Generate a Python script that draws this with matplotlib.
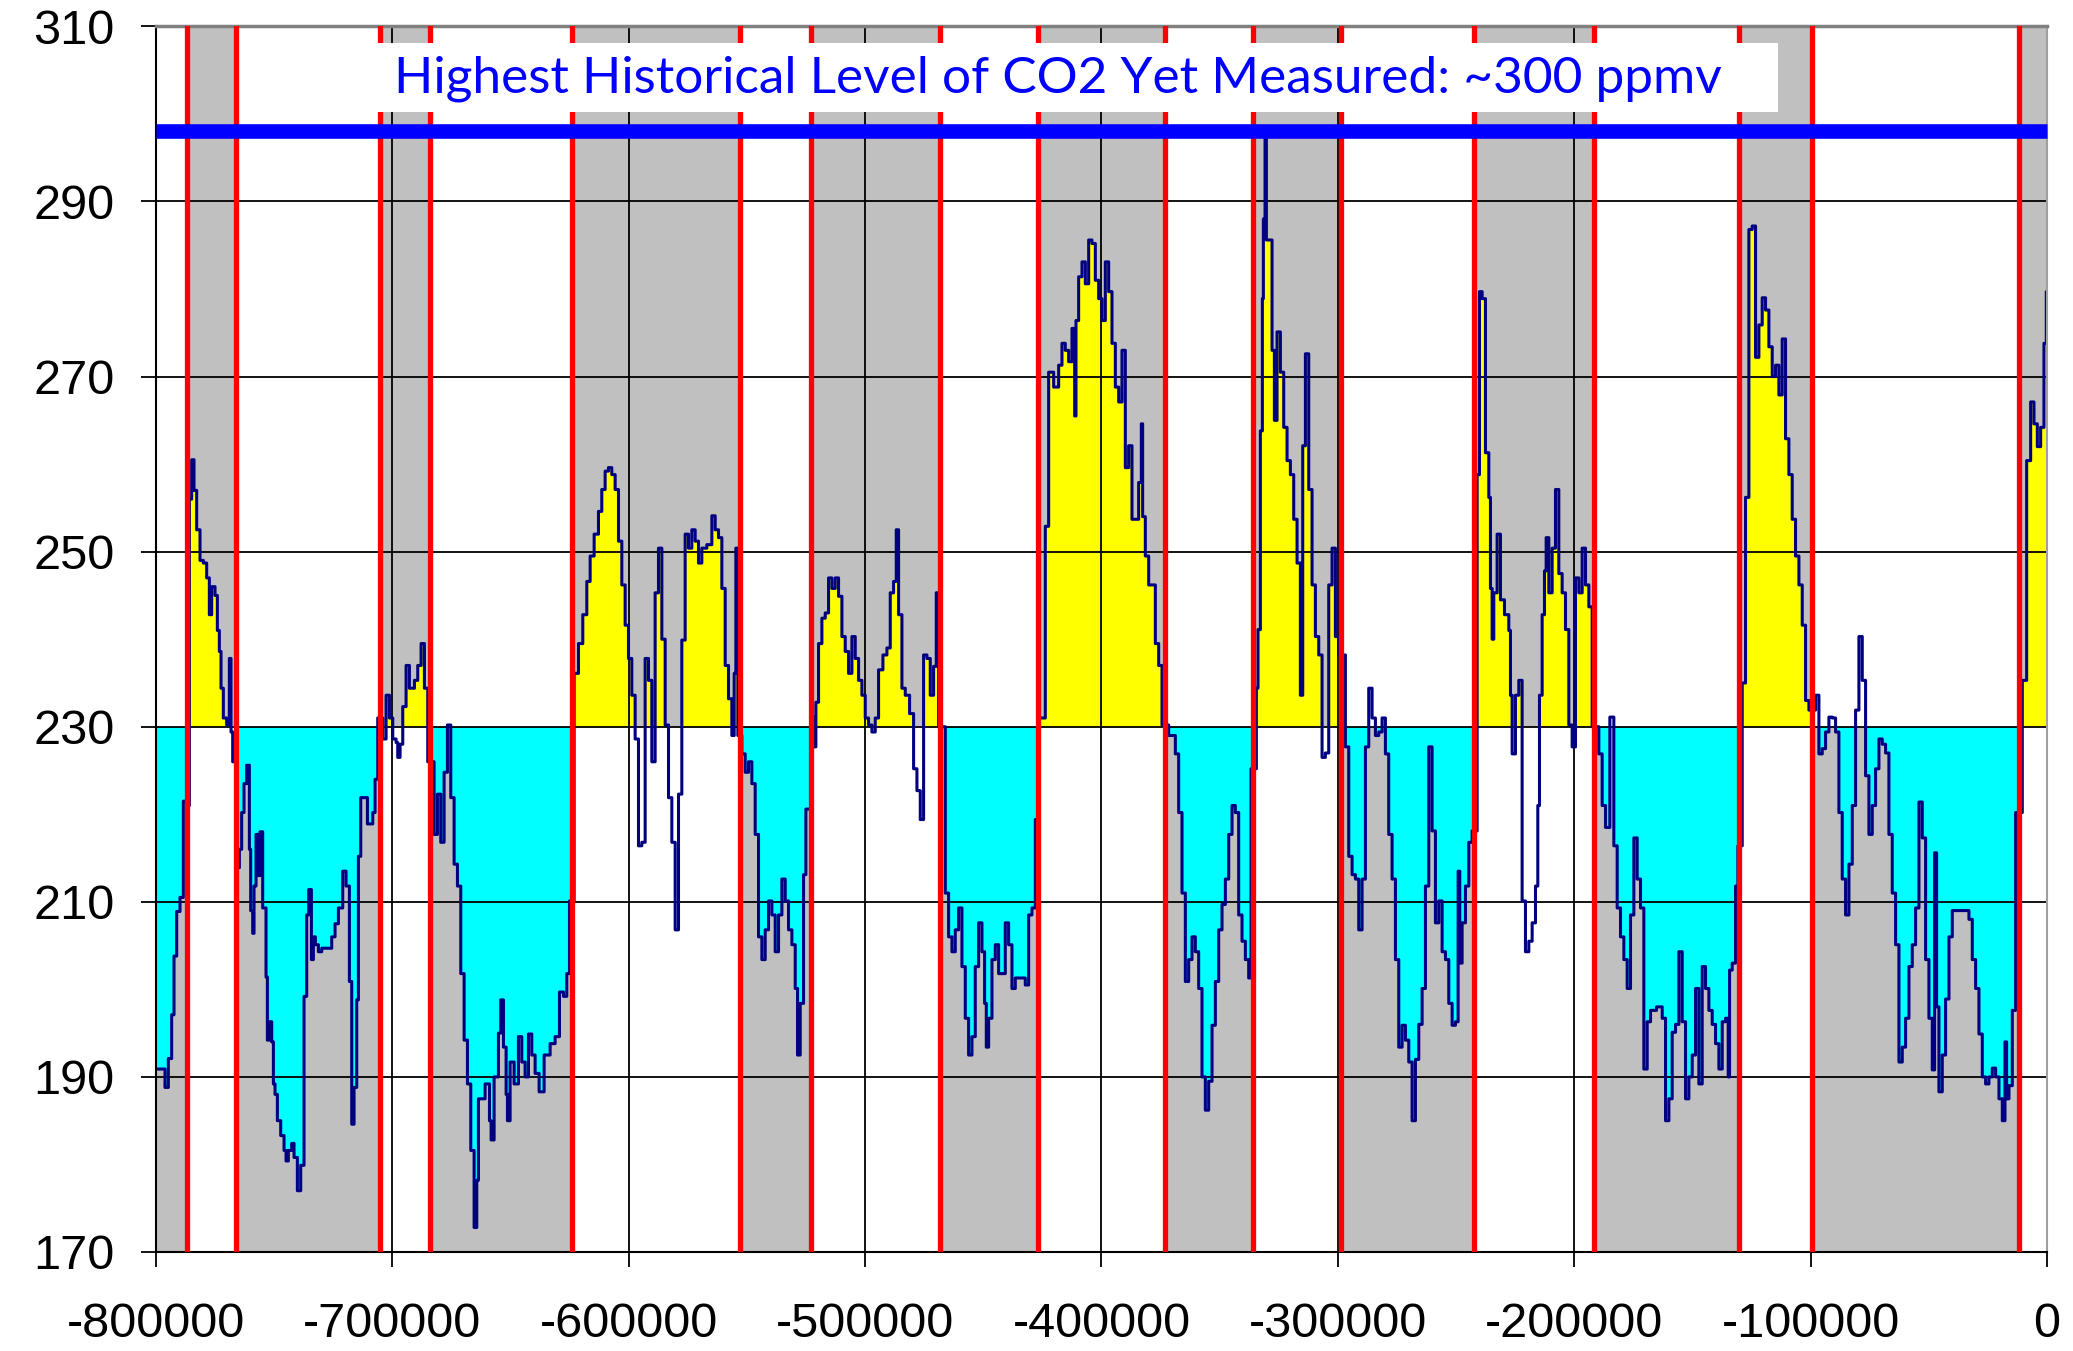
import numpy as np
import matplotlib.pyplot as plt
from matplotlib.patches import Rectangle

plt.rcParams['font.family'] = ['Liberation Sans', 'DejaVu Sans']
plt.rcParams['axes.unicode_minus'] = False

# CO2 record (ppmv), ages in thousands of years before present
age_800_664 = [-799.9, -796.19, -794.78, -793.37, -792.38, -791.25, -789.84, -788.43, -787.02, -785.89,
               -784.90, -783.92, -782.79, -781.38, -779.97, -778.56, -777.43, -776.44, -775.03, -774.04,
               -773.20, -772.49, -771.51, -770.10, -768.97, -768.26, -767.55, -765.58, -764.73, -763.75,
               -762.76, -761.63, -760.50, -759.94, -759.09, -758.53, -757.68, -756.69, -755.99, -754.86,
               -753.45, -752.88, -752.04, -751.05, -750.34, -749.64, -748.65, -747.24, -745.83, -744.98,
               -744.00, -742.59, -741.60, -740.19, -738.78, -737.37, -736.24, -735.39, -734.26, -733.42,
               -732.57, -731.30, -729.89, -727.77, -725.66, -724.25, -722.83, -721.00, -719.59, -718.18,
               -717.19, -716.21, -715.08, -714.37, -713.38, -710.56, -708.30, -707.32, -706.19, -704.07,
               -702.66, -701.25, -699.84, -698.43, -697.73, -696.74, -695.61, -694.20, -692.79, -690.67,
               -689.26, -687.85, -686.44, -685.03, -682.35, -680.94, -679.53, -678.12, -676.71, -675.29,
               -673.88, -672.47, -671.06, -669.65, -668.24, -666.83, -665.42, -664.29]
co2_800_664 = [190.9, 188.8, 192.1, 197.1, 203.8, 208.9, 210.5, 221.5, 221.0, 256.0,
               260.5, 257.0, 252.5, 249.0, 248.7, 247.0, 242.8, 246.0, 245.0, 241.0,
               238.6, 234.4, 231.0, 230.2, 237.8, 229.4, 226.0, 213.9, 216.0, 220.2,
               223.5, 225.6, 216.0, 209.0, 206.4, 211.8, 217.7, 213.0, 218.0, 209.3,
               201.4, 194.2, 196.3, 194.0, 189.2, 188.0, 185.0, 183.3, 181.6, 180.4,
               181.6, 182.4, 180.8, 177.0, 179.9, 199.2, 208.5, 211.4, 203.4, 206.0,
               205.1, 204.3, 204.7, 204.7, 206.0, 207.5, 209.3, 213.5, 211.8, 200.9,
               184.6, 188.8, 198.8, 215.2, 221.9, 218.9, 220.2, 224.0, 231.0, 228.6,
               233.6, 231.0, 228.6, 228.2, 226.5, 228.0, 232.3, 237.0, 234.4, 235.3,
               237.0, 239.5, 234.4, 226.0, 217.7, 222.3, 216.8, 224.8, 230.2, 221.9,
               214.3, 211.8, 201.8, 194.2, 189.2, 181.6, 172.8, 178.2]

age_664_532 = [-663.59, -660.77, -658.93, -658.23, -656.96, -655.13, -654.14, -653.01, -651.88, -651.32,
               -650.19, -648.50, -646.67, -645.25, -643.84, -642.43, -641.02, -639.61, -637.92, -635.80,
               -633.26, -631.15, -629.31, -627.62, -626.21, -625.08, -623.11, -621.27, -619.44, -617.74,
               -616.33, -614.64, -612.81, -611.40, -609.99, -608.58, -607.17, -605.75, -604.34, -602.93,
               -601.52, -600.11, -598.70, -597.29, -595.88, -594.47, -593.06, -591.65, -590.24, -588.83,
               -587.42, -586.00, -584.59, -583.18, -581.77, -580.36, -578.95, -577.54, -576.13, -574.72,
               -573.31, -571.90, -570.49, -569.08, -566.96, -564.84, -563.43, -562.02, -560.61, -559.20,
               -557.79, -556.38, -555.39, -554.69, -553.84, -552.15, -550.74, -549.33, -547.92, -546.51,
               -545.09, -543.68, -542.27, -540.86, -539.45, -538.04, -536.63, -535.22, -533.81, -532.40]
co2_664_532 = [187.5, 189.2, 185.0, 182.8, 190.0, 195.0, 198.8, 193.4, 188.0, 185.0,
               191.7, 189.2, 194.6, 191.7, 190.0, 194.9, 192.5, 190.4, 188.3, 192.5,
               193.8, 194.6, 199.7, 199.2, 201.8, 210.1, 236.1, 239.5, 242.8, 246.6,
               249.5, 252.0, 254.6, 257.1, 259.2, 259.6, 258.8, 257.1, 251.2, 246.2,
               241.6, 237.8, 233.6, 228.6, 216.4, 216.8, 237.8, 235.3, 226.0, 245.3,
               250.4, 240.0, 230.2, 221.9, 216.8, 206.8, 222.3, 239.9, 252.0, 250.4,
               252.5, 251.2, 248.7, 250.4, 250.8, 254.1, 252.5, 251.6, 245.8, 237.0,
               233.2, 229.0, 236.1, 250.4, 229.0, 226.9, 224.8, 226.0, 223.5, 217.7,
               206.0, 203.4, 206.8, 210.1, 208.5, 204.3, 208.5, 212.6, 210.1, 206.8]

age_531_393 = [-530.98, -529.57, -528.59, -527.46, -526.05, -525.06, -523.93, -522.80, -521.53, -520.83,
               -519.70, -518.29, -516.88, -515.47, -514.06, -512.65, -511.24, -509.82, -508.41, -507.00,
               -505.59, -504.18, -502.77, -501.36, -499.95, -498.54, -497.13, -495.72, -494.31, -492.47,
               -490.78, -489.37, -487.96, -486.83, -485.84, -484.43, -483.02, -481.19, -479.49, -478.08,
               -476.67, -475.26, -473.85, -472.44, -471.03, -469.90, -468.91, -466.09, -464.68, -463.27,
               -461.86, -460.45, -459.04, -457.63, -456.22, -454.81, -453.40, -451.99, -450.57, -449.45,
               -448.74, -447.75, -446.34, -444.93, -443.52, -442.11, -440.70, -439.29, -437.88, -436.47,
               -434.35, -432.24, -430.82, -429.41, -428.00, -426.59, -425.18, -423.77, -422.36, -420.24,
               -418.13, -416.72, -415.31, -413.90, -412.49, -411.36, -410.79, -409.67, -408.25, -406.84,
               -405.43, -404.02, -402.61, -401.20, -399.79, -398.38, -396.97, -395.56, -394.14, -392.73]
co2_531_393 = [205.1, 200.1, 192.5, 198.4, 213.1, 220.6, 220.6, 231.1, 227.7, 232.8,
               239.5, 242.4, 243.0, 247.0, 245.8, 247.0, 244.9, 240.3, 238.6, 236.1,
               240.3, 237.8, 235.3, 233.6, 231.0, 230.2, 229.4, 231.0, 236.5, 238.2,
               239.0, 245.3, 246.6, 252.5, 242.8, 234.4, 233.6, 231.5, 225.2, 222.7,
               219.4, 238.2, 237.8, 233.6, 236.9, 245.3, 230.0, 211.0, 206.0, 204.3,
               206.8, 209.3, 202.6, 196.7, 192.5, 194.6, 202.6, 207.6, 204.3, 198.4,
               193.4, 196.7, 203.4, 205.1, 201.8, 201.8, 207.6, 205.1, 200.1, 201.3,
               201.3, 200.5, 208.5, 209.3, 219.4, 231.0, 231.0, 252.9, 270.5, 268.8,
               271.3, 273.8, 273.0, 271.7, 275.5, 265.5, 276.4, 281.4, 283.1, 280.6,
               285.6, 285.2, 281.0, 278.9, 276.4, 283.1, 279.7, 273.8, 268.8, 267.1]

age_391_257 = [-391.33, -389.92, -388.51, -387.10, -385.69, -384.28, -383.15, -382.59, -381.46, -380.04,
               -378.63, -377.22, -375.81, -374.40, -371.58, -368.76, -367.35, -365.94, -364.53, -363.12,
               -361.71, -360.30, -358.89, -357.48, -356.07, -354.65, -353.24, -351.83, -350.42, -349.01,
               -347.60, -346.19, -344.78, -343.37, -341.96, -340.55, -339.14, -337.73, -336.74, -334.48,
               -333.78, -332.79, -331.94, -331.52, -330.81, -330.25, -329.26, -327.85, -326.86, -325.74,
               -324.32, -322.91, -321.50, -320.09, -318.68, -317.27, -315.86, -314.87, -313.74, -312.33,
               -310.92, -309.51, -308.10, -306.69, -305.28, -303.87, -302.46, -301.05, -299.64, -296.82,
               -295.40, -293.99, -292.58, -291.17, -289.76, -288.35, -286.94, -285.53, -284.12, -282.71,
               -281.30, -279.89, -278.48, -277.07, -275.65, -274.24, -272.83, -271.42, -270.01, -268.60,
               -267.19, -265.78, -264.37, -262.96, -261.55, -260.14, -258.73, -257.32]
co2_391_257 = [273.0, 259.6, 262.1, 253.7, 253.7, 257.9, 264.6, 254.0, 249.5, 246.2,
               246.2, 239.5, 237.0, 230.2, 229.0, 226.9, 220.2, 211.0, 200.9, 203.4,
               206.0, 204.3, 200.1, 190.0, 186.2, 189.5, 195.9, 200.9, 206.8, 209.7,
               212.6, 217.7, 221.0, 220.2, 208.5, 205.5, 203.4, 201.3, 225.2, 234.4,
               241.1, 263.8, 278.9, 288.0, 297.3, 285.6, 285.6, 273.0, 265.0, 275.1,
               270.5, 264.2, 260.4, 258.8, 253.7, 248.7, 233.6, 262.1, 272.6, 257.1,
               246.2, 240.3, 238.2, 226.5, 227.0, 246.2, 250.4, 240.3, 238.2, 227.7,
               215.2, 213.1, 212.6, 206.8, 212.6, 227.7, 234.4, 231.0, 229.0, 229.4,
               231.0, 226.9, 217.7, 212.6, 203.4, 193.4, 195.9, 194.2, 191.7, 185.0,
               192.0, 196.0, 200.1, 211.8, 227.7, 218.1, 207.6, 210.1]

age_256_122 = [-255.90, -254.49, -253.08, -251.67, -250.26, -249.13, -248.43, -247.44, -246.03, -244.62,
               -243.21, -241.09, -240.10, -238.97, -237.56, -236.15, -235.45, -234.74, -234.04, -232.63,
               -231.22, -229.52, -227.69, -226.98, -226.28, -224.87, -223.46, -222.05, -220.64, -219.22,
               -217.81, -216.40, -215.42, -214.71, -213.58, -212.59, -211.89, -210.76, -209.35, -207.94,
               -206.53, -205.12, -203.71, -202.30, -200.89, -199.47, -198.06, -196.65, -195.24, -193.83,
               -192.42, -189.60, -188.19, -186.78, -184.94, -183.25, -181.84, -180.43, -179.02, -177.61,
               -176.20, -174.79, -173.38, -171.97, -170.56, -169.14, -167.73, -165.19, -162.79, -161.38,
               -159.97, -158.56, -157.15, -155.74, -154.33, -152.92, -151.51, -150.10, -148.69, -147.28,
               -145.87, -144.46, -143.05, -141.64, -140.22, -138.81, -137.40, -135.99, -134.87, -134.30,
               -133.17, -131.76, -130.77, -128.94, -127.53, -126.12, -124.71, -123.30, -121.89]
co2_256_122 = [204.3, 203.4, 198.4, 195.9, 196.3, 213.5, 203.0, 207.6, 211.8, 216.8,
               218.1, 258.8, 279.7, 278.9, 261.3, 256.2, 245.8, 240.0, 245.3, 252.0,
               244.5, 242.8, 241.0, 233.6, 226.9, 233.6, 235.3, 210.1, 204.3, 205.5,
               207.6, 211.8, 221.0, 233.6, 242.8, 247.8, 251.6, 245.3, 250.4, 257.1,
               247.5, 245.3, 241.1, 230.2, 227.7, 247.0, 245.3, 250.4, 246.2, 243.7,
               230.0, 226.9, 221.0, 218.5, 231.1, 216.4, 209.3, 206.0, 203.4, 200.1,
               208.5, 217.3, 212.6, 209.3, 190.9, 196.3, 197.6, 198.0, 196.7, 185.0,
               187.5, 195.1, 196.0, 204.3, 196.3, 187.5, 190.0, 192.5, 200.1, 189.2,
               202.6, 200.1, 197.6, 196.0, 193.8, 190.9, 196.3, 196.7, 190.0, 202.2,
               203.0, 211.8, 216.4, 235.0, 256.2, 286.8, 287.2, 272.2, 275.9]

age_120_0 = [-120.48, -119.07, -117.66, -116.25, -114.84, -113.43, -112.02, -110.61, -109.20, -107.79,
             -106.38, -104.96, -103.55, -102.14, -100.73, -97.91, -96.50, -95.09, -93.68, -92.27,
             -90.86, -89.45, -88.04, -86.63, -85.22, -83.80, -82.39, -80.98, -79.57, -78.16,
             -76.75, -75.34, -73.93, -72.52, -71.11, -69.70, -68.29, -66.88, -65.47, -64.05,
             -62.64, -61.23, -59.82, -58.41, -57.00, -55.59, -54.18, -52.77, -51.36, -49.95,
             -48.54, -47.55, -46.70, -45.72, -44.31, -42.90, -41.48, -40.07, -34.43, -33.02,
             -31.61, -30.20, -28.79, -27.38, -25.97, -24.56, -23.15, -21.73, -20.32, -18.91,
             -17.78, -17.08, -16.09, -14.68, -13.27, -10.45, -8.61, -6.92, -5.51, -4.10,
             -2.69, -1.28, -0.3]
co2_120_0 = [279.0, 277.6, 273.4, 270.0, 271.3, 267.9, 274.3, 262.9, 258.8, 253.7,
             249.5, 246.2, 241.6, 233.0, 231.9, 233.6, 226.9, 227.5, 229.4, 231.1,
             231.0, 229.4, 220.2, 212.6, 208.5, 214.3, 221.0, 231.9, 240.3, 235.3,
             224.4, 217.7, 221.0, 225.2, 228.6, 228.0, 227.0, 217.7, 211.0, 205.1,
             191.7, 193.4, 196.7, 202.6, 205.1, 209.3, 221.4, 217.3, 203.4, 196.7,
             190.8, 215.6, 198.0, 188.3, 192.5, 198.9, 206.0, 209.0, 209.0, 208.0,
             203.4, 200.1, 194.9, 190.0, 189.2, 190.0, 191.0, 190.0, 187.5, 185.0,
             194.0, 187.5, 189.0, 197.6, 220.2, 235.3, 260.4, 267.1, 264.6, 262.0,
             264.2, 273.8, 279.7]

# boundaries between glacial / interglacial periods (kyr)
period_bounds = [-787.0, -766.1, -705.2, -684.0, -624.1, -552.8, -522.9, -468.2, -426.9,
                 -373.3, -336.0, -298.6, -242.5, -191.7, -130.3, -99.6, -11.9]

y_ticks = [170, 190, 210, 230, 250, 270, 290, 310]
x_ticks = [-800000, -700000, -600000, -500000, -400000, -300000, -200000, -100000, 0]
baseline = 230
max_level = 298.1
note = 'Highest Historical Level of CO2 Yet Measured: ~300 ppmv'

age = np.concatenate([age_800_664, age_664_532, age_531_393,
                      age_391_257, age_256_122, age_120_0]) * 1000
co2 = np.concatenate([co2_800_664, co2_664_532, co2_531_393,
                      co2_391_257, co2_256_122, co2_120_0])


def span(a, b):
    # step curve restricted to [a, b]
    i0 = np.searchsorted(age, a, side='right') - 1
    i1 = np.searchsorted(age, b, side='left')
    xs = np.concatenate([[a], age[i0 + 1:i1], [b]])
    ys = np.concatenate([[co2[max(i0, 0)]], co2[i0 + 1:i1], [co2[i1 - 1]]])
    return xs, ys


fig = plt.figure(figsize=(20.73, 13.51), dpi=100)
ax = fig.add_axes([0.07525, 0.07328, 0.91221, 0.90718])
ax.set_xlim(-800000, 0)
ax.set_ylim(170, 310)
ax.set_facecolor('#C0C0C0')

edges = np.concatenate([[-800.0], period_bounds, [0.0]]) * 1000
frac = (baseline - 170) / (310 - 170)
for k in range(len(edges) - 1):
    a, b = edges[k], edges[k + 1]
    xs, ys = span(a, b)
    if k % 2 == 0:
        ax.axvspan(a, b, ymin=frac, ymax=1, color='white', lw=0, zorder=0.5)
        ax.fill_between(xs, np.minimum(ys, baseline), baseline, step='post',
                        color='#00FFFF', lw=0, zorder=1)
    else:
        ax.axvspan(a, b, ymin=0, ymax=frac, color='white', lw=0, zorder=0.5)
        ax.fill_between(xs, baseline, np.maximum(ys, baseline), step='post',
                        color='#FFFF00', lw=0, zorder=1)

for y in y_ticks[1:-1]:
    ax.axhline(y, color='black', lw=1.3, zorder=1.5)
for x in x_ticks[1:-1]:
    ax.axvline(x, color='black', lw=1.3, zorder=1.5)

ax.plot(np.append(age, 0), np.append(co2, co2[-1]), drawstyle='steps-post',
        color='#000080', lw=2.2, zorder=2.5)

for b in period_bounds:
    ax.axvline(b * 1000, color='#FF0000', lw=3.8, zorder=3)

ax.plot([-800000, 0], [max_level, max_level], color='#0000FF', lw=10.5,
        solid_capstyle='butt', zorder=5, clip_on=False)
ax.add_patch(Rectangle((-707700, 300.26), 594100, 7.81, facecolor='white',
                       edgecolor='none', zorder=6))
ax.text(-418500, 304.0, note, color='#0000FF', fontsize=37, family='Lato',
        ha='center', va='center', zorder=7)

ax.set_xticks(x_ticks)
ax.set_xticklabels([str(v) for v in x_ticks])
ax.set_yticks(y_ticks)
ax.tick_params(axis='both', direction='out', length=11, width=1.3, labelsize=35)
ax.tick_params(axis='x', pad=25)
ax.tick_params(axis='y', pad=19)

for side in ['left', 'bottom']:
    ax.spines[side].set_color('black')
    ax.spines[side].set_linewidth(1.5)
ax.spines['top'].set_color('#808080')
ax.spines['top'].set_linewidth(2.5)
ax.spines['right'].set_color('#A0A0A0')
ax.spines['right'].set_linewidth(1.5)

fig.savefig('out.png', dpi=100, facecolor='white')
